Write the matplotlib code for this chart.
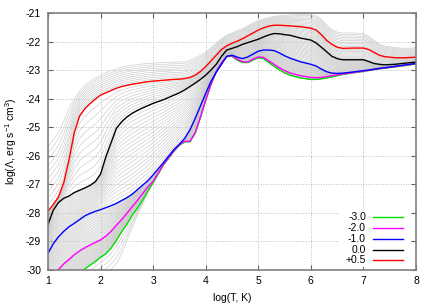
import numpy as np
import matplotlib
matplotlib.use("Agg")
import matplotlib.pyplot as plt
from matplotlib.patches import Rectangle

plt.rcParams['font.family'] = ['Liberation Sans', 'DejaVu Sans']
plt.rcParams['mathtext.fontset'] = 'custom'
plt.rcParams['mathtext.rm'] = 'Liberation Sans'
plt.rcParams['mathtext.it'] = 'Liberation Sans:italic'

# common log T grid
logT = [1.0, 1.1, 1.2, 1.3, 1.4, 1.5, 1.6, 1.7, 1.8, 1.9, 2.0, 2.1, 2.2, 2.3, 2.4,
        2.5, 2.6, 2.7, 2.8, 2.9, 3.0, 3.2, 3.4, 3.5, 3.6, 3.7, 3.8, 3.9, 4.0, 4.1,
        4.2, 4.3, 4.4, 4.5, 4.6, 4.7, 4.8, 4.9, 5.0, 5.1, 5.2, 5.3, 5.4, 5.5, 5.6,
        5.8, 6.0, 6.1, 6.2, 6.3, 6.4, 6.5, 6.6, 6.8, 7.0, 7.1, 7.2, 7.3, 7.4, 7.6,
        7.8, 8.0]

# coloured curves, [Z/H] = -3, -2, -1, 0, +0.5
lam_m30 = [-31.3, -31.0, -30.8, -30.6, -30.45, -30.3, -30.15, -29.98, -29.85, -29.72,
           -29.57, -29.45, -29.25, -28.98, -28.68, -28.42, -28.1, -27.85, -27.56, -27.24,
           -26.95, -26.32, -25.84, -25.64, -25.52, -25.52, -25.22, -24.66, -24.06, -23.5,
           -23.06, -22.76, -22.53, -22.52, -22.65, -22.74, -22.74, -22.65, -22.57, -22.6,
           -22.74, -22.87, -22.99, -23.1, -23.18, -23.28, -23.33, -23.33, -23.31, -23.28,
           -23.24, -23.2, -23.16, -23.1, -23.05, -23.02, -22.99, -22.96, -22.94, -22.89,
           -22.84, -22.79]
lam_m20 = [-30.4, -30.2, -30.0, -29.8, -29.65, -29.48, -29.35, -29.24, -29.14, -29.05,
           -28.96, -28.83, -28.66, -28.45, -28.25, -28.03, -27.8, -27.58, -27.34, -27.1,
           -26.9, -26.3, -25.82, -25.62, -25.5, -25.5, -25.2, -24.65, -24.05, -23.5,
           -23.05, -22.75, -22.52, -22.5, -22.62, -22.71, -22.72, -22.62, -22.54, -22.56,
           -22.68, -22.8, -22.92, -23.02, -23.1, -23.2, -23.26, -23.27, -23.26, -23.23,
           -23.2, -23.17, -23.14, -23.09, -23.04, -23.01, -22.98, -22.95, -22.93, -22.88,
           -22.83, -22.78]
lam_m10 = [-29.43, -29.1, -28.85, -28.66, -28.5, -28.38, -28.25, -28.12, -28.03, -27.96,
           -27.9, -27.83, -27.76, -27.68, -27.58, -27.48, -27.36, -27.2, -27.04, -26.88,
           -26.68, -26.24, -25.78, -25.6, -25.4, -25.1, -24.7, -24.26, -23.82, -23.4,
           -23.08, -22.8, -22.52, -22.48, -22.55, -22.6, -22.54, -22.44, -22.34, -22.3,
           -22.3, -22.32, -22.4, -22.5, -22.58, -22.71, -22.8, -22.86, -22.97, -23.06,
           -23.11, -23.12, -23.11, -23.07, -23.02, -23.0, -22.97, -22.94, -22.92, -22.87,
           -22.82, -22.77]
lam_p00 = [-28.42, -27.92, -27.65, -27.5, -27.42, -27.3, -27.22, -27.14, -27.05, -26.92,
           -26.65, -26.05, -25.55, -25.05, -24.82, -24.65, -24.52, -24.42, -24.33, -24.25,
           -24.17, -24.04, -23.88, -23.8, -23.7, -23.58, -23.46, -23.33, -23.18, -23.0,
           -22.8, -22.52, -22.3, -22.24, -22.18, -22.1, -22.04, -21.98, -21.92, -21.84,
           -21.77, -21.72, -21.73, -21.76, -21.78, -21.88, -21.95, -22.05, -22.2, -22.36,
           -22.52, -22.6, -22.64, -22.64, -22.64, -22.7, -22.77, -22.8, -22.82, -22.8,
           -22.76, -22.72]
lam_p05 = [-27.95, -27.72, -27.45, -26.95, -26.15, -25.2, -24.62, -24.36, -24.18, -24.02,
           -23.88, -23.8, -23.72, -23.64, -23.58, -23.54, -23.5, -23.47, -23.44, -23.41,
           -23.39, -23.36, -23.33, -23.32, -23.3, -23.26, -23.18, -23.05, -22.88, -22.68,
           -22.48, -22.28, -22.15, -22.06, -21.99, -21.9, -21.8, -21.7, -21.6, -21.52,
           -21.46, -21.43, -21.43, -21.44, -21.45, -21.48, -21.53, -21.6, -21.76, -21.96,
           -22.1, -22.2, -22.24, -22.23, -22.23, -22.28, -22.38, -22.48, -22.53, -22.57,
           -22.57, -22.55]

# grey family: edges of the grey band
lam_gray_low = [-32.0, -31.8, -31.6, -31.4, -31.2, -31.05, -30.9, -30.75, -30.6, -30.45,
                -30.3, -30.15, -30.0, -29.8, -29.45, -29.0, -28.55, -28.1, -27.7, -27.3,
                -26.98, -26.32, -25.84, -25.64, -25.52, -25.52, -25.22, -24.66, -24.06, -23.5,
                -23.06, -22.76, -22.53, -22.52, -22.65, -22.74, -22.74, -22.65, -22.57, -22.6,
                -22.74, -22.87, -22.99, -23.1, -23.18, -23.28, -23.33, -23.33, -23.31, -23.28,
                -23.24, -23.2, -23.16, -23.1, -23.05, -23.02, -22.99, -22.96, -22.94, -22.89,
                -22.84, -22.79]
lam_gray_top = [-25.7, -25.45, -25.2, -24.8, -24.35, -24.0, -23.75, -23.55, -23.4, -23.28,
                -23.18, -23.1, -23.02, -22.96, -22.9, -22.86, -22.83, -22.81, -22.79, -22.77,
                -22.76, -22.74, -22.72, -22.72, -22.71, -22.66, -22.58, -22.48, -22.38, -22.22,
                -22.05, -21.9, -21.78, -21.7, -21.62, -21.55, -21.45, -21.35, -21.27, -21.21,
                -21.16, -21.12, -21.1, -21.08, -21.07, -21.05, -21.04, -21.1, -21.22, -21.42,
                -21.58, -21.67, -21.7, -21.7, -21.72, -21.82, -21.96, -22.08, -22.16, -22.22,
                -22.24, -22.22]

metal_labels = ['-3.0', '-2.0', '-1.0', '0.0', '+0.5']
colors = ['#00dd00', '#ff00ff', '#0000ff', '#000000', '#ff0000']

x = np.array(logT)
anchor_z = [-4.0, -3.0, -2.0, -1.0, 0.0, 0.5, 1.0]
anchor_y = [np.array(a) for a in (lam_gray_low, lam_m30, lam_m20, lam_m10,
                                  lam_p00, lam_p05, lam_gray_top)]

fig = plt.figure(figsize=(4.36, 3.05), dpi=100)
ax = fig.add_axes([48/436, 1-269.5/305, 368/436, 256.5/305])

# grey family of curves filling the band between the read curves
gray_z = list(np.arange(-4.0, -3.0, 0.25)) + list(np.arange(-3.0, 1.0001, 0.05))
for z in gray_z:
    i = min(np.searchsorted(anchor_z, z, side='right') - 1, len(anchor_z) - 2)
    w = (z - anchor_z[i]) / (anchor_z[i+1] - anchor_z[i])
    y = anchor_y[i] * (1 - w) + anchor_y[i+1] * w
    ax.plot(x, y, color='#cacaca', lw=0.45, zorder=2)

series = [lam_m30, lam_m20, lam_m10, lam_p00, lam_p05]
for s, c in zip(series, colors):
    ax.plot(x, s, color=c, lw=1.0, zorder=3)

ax.set_xlim(1, 8)
ax.set_ylim(-30, -21)
ax.set_xticks(range(1, 9))
ax.set_yticks(range(-30, -20))
ax.set_yticklabels([str(v) for v in range(-30, -20)])
ax.grid(True, color='#a8a8a8', lw=0.6, linestyle=(0, (1, 2)), zorder=1)
ax.set_axisbelow(True)
ax.tick_params(direction='in', top=True, right=True, length=3.5, width=0.8,
               color='#606060', labelsize=7.5, pad=5)
for sp in ax.spines.values():
    sp.set_color('#808080')
    sp.set_linewidth(1.2)
    sp.set_zorder(6)

ax.set_xlabel('log(T, K)', fontsize=7.5, labelpad=5)
ax.set_ylabel(r'log($\Lambda$, erg s$^{-1}$ cm$^{3}$)', fontsize=7.5, labelpad=5)

# key (gnuplot-like, text right-justified before sample)
ax.add_patch(Rectangle((0.79, 0.008), 0.19, 0.225, transform=ax.transAxes,
                       facecolor='white', edgecolor='none', zorder=5))
rows = [0.2035, 0.1618, 0.1189, 0.0772, 0.0359]
for lab, c, yy in zip(metal_labels, colors, rows):
    ax.text(0.864, yy, lab, transform=ax.transAxes, ha='right', va='center',
            fontsize=7.5, zorder=7)
    ax.plot([0.883, 0.965], [yy, yy], transform=ax.transAxes, color=c, lw=1.0,
            zorder=7, clip_on=False)

fig.savefig('out.png', dpi=100)
